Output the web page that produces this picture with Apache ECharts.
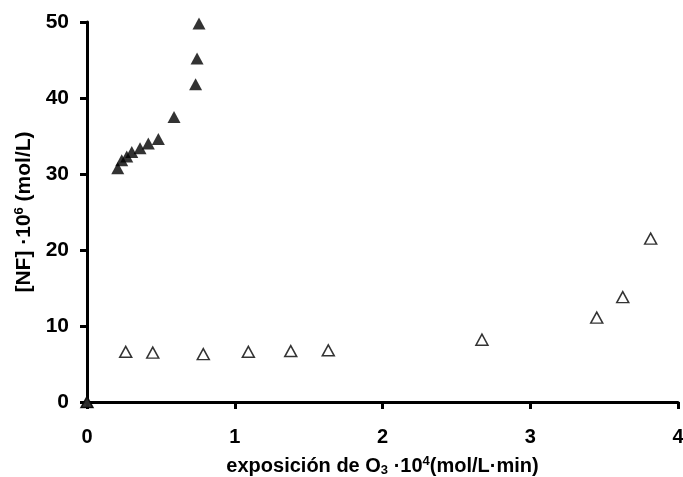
<!DOCTYPE html>
<html>
<head>
<meta charset="utf-8">
<script src="https://cdn.jsdelivr.net/npm/echarts@6/dist/echarts.min.js"></script>
<style>
html,body{margin:0;padding:0;background:#fff;}
#chart{width:683px;height:477px;}
</style>
</head>
<body>
<div id="chart"></div>
<script>
// serie con triangulos rellenos
var xFilled = [0, 0.208, 0.235, 0.269, 0.303, 0.359, 0.415, 0.483, 0.589, 0.735, 0.745, 0.758];
var yFilled = [0, 30.75, 31.8, 32.3, 32.9, 33.4, 34.0, 34.6, 37.5, 41.8, 45.2, 49.8];
// serie con triangulos vacios
var xOpen = [0, 0.262, 0.445, 0.787, 1.092, 1.379, 1.633, 2.673, 3.45, 3.626, 3.815];
var yOpen = [0, 6.6, 6.5, 6.3, 6.6, 6.7, 6.8, 8.2, 11.1, 13.8, 21.5];

function pares(xs, ys) {
	var arr = [];
	for (var i = 0; i < xs.length; i++) {
		arr.push([xs[i], ys[i]]);
	}
	return arr;
}

var dom = document.getElementById("chart");
var myChart = echarts.init(dom);
var fuente = 'Liberation Sans';

var option = {
	animation: false,
	grid: {left: 87, right: 5, top: 22, bottom: 75, containLabel: false, outerBoundsMode: 'none'},
	xAxis: {
		type: 'value',
		min: 0, max: 4, interval: 1,
		splitLine: {show: false},
		axisLine: {onZero: false, lineStyle: {color: '#000', width: 3}},
		axisTick: {show: true, length: 7, lineStyle: {color: '#000', width: 3}},
		axisLabel: {color: '#000', fontSize: 20, fontWeight: 'bold', fontFamily: fuente, margin: 25},
		name: 'exposición de O{sub|3} ·10{sup|4}(mol/L·min)',
		nameLocation: 'middle',
		nameGap: 53,
		nameTextStyle: {
			color: '#000', fontSize: 20, fontWeight: 'bold', fontFamily: fuente,
			rich: {
				sub: {fontSize: 13, fontWeight: 'bold', fontFamily: fuente, color: '#000', verticalAlign: 'bottom', padding: [9, 0, 0, 0]},
				sup: {fontSize: 13, fontWeight: 'bold', fontFamily: fuente, color: '#000', verticalAlign: 'top', padding: [0, 0, 9, 0]}
			}
		}
	},
	yAxis: {
		type: 'value',
		min: 0, max: 50, interval: 10,
		splitLine: {show: false},
		axisLine: {onZero: false, lineStyle: {color: '#000', width: 3}},
		axisTick: {show: true, length: 7, lineStyle: {color: '#000', width: 3}},
		axisLabel: {color: '#000', fontSize: 21, fontWeight: 'bold', fontFamily: fuente, margin: 18},
		name: '[NF] ·10{sup|6} (mol/L)',
		nameLocation: 'middle',
		nameGap: 51,
		nameTextStyle: {
			color: '#000', fontSize: 21, fontWeight: 'bold', fontFamily: fuente,
			rich: {
				sup: {fontSize: 13, fontWeight: 'bold', fontFamily: fuente, color: '#000', verticalAlign: 'top', padding: [0, 0, 9, 0]}
			}
		}
	},
	series: [
		{
			name: 'abiertos',
			type: 'scatter',
			symbol: 'triangle',
			symbolSize: [12, 11],
			data: pares(xOpen, yOpen),
			itemStyle: {color: '#fff', borderColor: '#000', borderWidth: 1.5}
		},
		{
			name: 'rellenos',
			type: 'scatter',
			symbol: 'triangle',
			symbolSize: [13, 12],
			data: pares(xFilled, yFilled),
			itemStyle: {color: '#000', borderColor: '#000', borderWidth: 0}
		}
	]
};
myChart.setOption(option, true);
</script>
</body>
</html>
